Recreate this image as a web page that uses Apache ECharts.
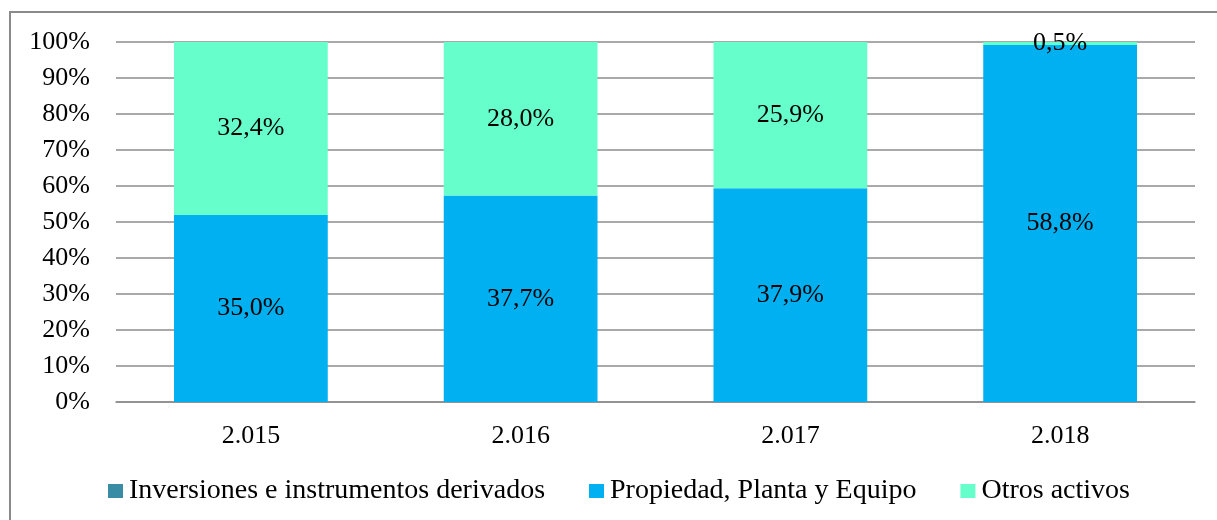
<!DOCTYPE html>
<html>
<head>
<meta charset="utf-8">
<script src="https://cdn.jsdelivr.net/npm/echarts@6/dist/echarts.min.js"></script>
<style>
  html, body { margin: 0; padding: 0; background: #fff; }
</style>
</head>
<body>
<div id="chart" style="width: 1217px; height: 520px"></div>
<script>
var years = ['2.015', '2.016', '2.017', '2.018']
var inversiones = [0, 0, 0, 0]
var propiedad = [35.0, 37.7, 37.9, 58.8]
var otros = [32.4, 28.0, 25.9, 0.5]
var yTicks = [0, 10, 20, 30, 40, 50, 60, 70, 80, 90, 100]

var totals = years.map(function (y, i) {
  return inversiones[i] + propiedad[i] + otros[i]
})
function share(arr) {
  return arr.map(function (v, i) { return v / totals[i] * 100 })
}
function rawLabel(arr) {
  return function (p) {
    var v = arr[p.dataIndex]
    if (!v) return ''
    return v.toFixed(1).replace('.', ',') + '%'
  }
}

var font = '"Liberation Serif", "Times New Roman", serif'
var myChart = echarts.init(document.getElementById('chart'))
var option = {
  animation: false,
  textStyle: { fontFamily: font },
  graphic: [
    { type: 'rect', shape: { x: 10, y: 12, width: 1230, height: 540 },
      style: { fill: 'none', stroke: '#8a8a8a', lineWidth: 2 } }
  ],
  grid: { left: 116, right: 22, top: 42, bottom: 118 },
  legend: {
    top: 472,
    left: 103,
    itemWidth: 15,
    itemHeight: 14,
    itemGap: 44,
    icon: 'rect',
    textStyle: { fontFamily: font, fontSize: 28, color: '#000', padding: [0, 0, 0, 1] },
    data: ['Inversiones e instrumentos derivados', 'Propiedad, Planta y Equipo', 'Otros activos']
  },
  xAxis: {
    type: 'category',
    data: years,
    axisTick: { show: false },
    axisLine: { lineStyle: { color: '#8c8c8c', width: 1.5 } },
    axisLabel: { fontFamily: font, fontSize: 26, color: '#000', margin: 21 }
  },
  yAxis: {
    type: 'value',
    min: yTicks[0],
    max: yTicks[yTicks.length - 1],
    interval: 10,
    splitLine: { lineStyle: { color: '#8c8c8c', width: 1.5 } },
    axisLabel: { fontFamily: font, fontSize: 26, color: '#000', margin: 26, formatter: '{value}%' }
  },
  series: [
    {
      name: 'Inversiones e instrumentos derivados',
      type: 'bar',
      stack: 'total',
      barWidth: '57%',
      itemStyle: { color: '#3A8CA4' },
      label: { show: true, formatter: rawLabel(inversiones), fontFamily: font, fontSize: 26, color: '#000' },
      data: share(inversiones)
    },
    {
      name: 'Propiedad, Planta y Equipo',
      type: 'bar',
      stack: 'total',
      itemStyle: { color: '#00B0F0' },
      label: { show: true, formatter: rawLabel(propiedad), fontFamily: font, fontSize: 26, color: '#000' },
      data: share(propiedad)
    },
    {
      name: 'Otros activos',
      type: 'bar',
      stack: 'total',
      itemStyle: { color: '#66FFCC' },
      label: { show: true, formatter: rawLabel(otros), fontFamily: font, fontSize: 26, color: '#000' },
      data: share(otros)
    }
  ]
}
myChart.setOption(option)
</script>
</body>
</html>
